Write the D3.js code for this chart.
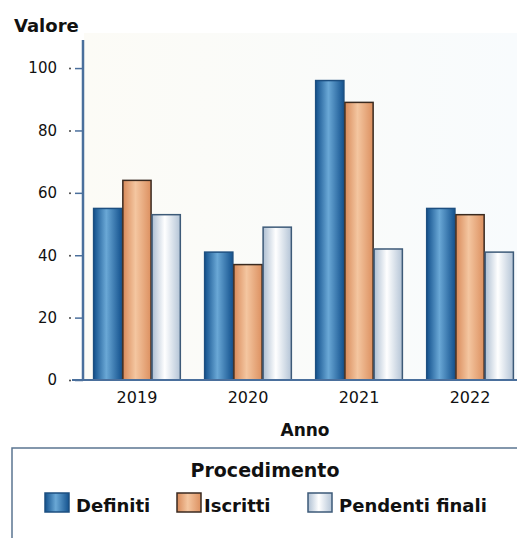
<!DOCTYPE html>
<html><head><meta charset="utf-8">
<script src="https://cdn.jsdelivr.net/npm/d3@7"></script>
<style>
html,body{margin:0;padding:0;background:#fff;}
svg{display:block;font-family:"DejaVu Sans",sans-serif;}
</style></head>
<body>
<svg id="chart" width="517" height="538"></svg>
<script>
const years = ["2019","2020","2021","2022"];
const seriesNames = ["Definiti","Iscritti","Pendenti finali"];
const definiti = [55, 41, 96, 55];
const iscritti = [64, 37, 89, 53];
const pendenti = [53, 49, 42, 41];
const yTicks = [0, 20, 40, 60, 80, 100];
const seriesValues = [definiti, iscritti, pendenti];

const svg = d3.select("#chart");
const defs = svg.append("defs");
const grads = [
  {id:"gDef", stops:[["0%","#12508c"],["45%","#6aa8d6"],["100%","#14528e"]], stroke:"#1d4f80"},
  {id:"gIsc", stops:[["0%","#d88a5a"],["45%","#f4c6a0"],["100%","#dc9060"]], stroke:"#3a2a20"},
  {id:"gPen", stops:[["0%","#aebfd2"],["45%","#ffffff"],["100%","#b4c4d6"]], stroke:"#3d5a78"}
];
grads.forEach(g=>{
  const lg = defs.append("linearGradient").attr("id",g.id).attr("x1","0%").attr("x2","100%").attr("y1","0%").attr("y2","0%");
  g.stops.forEach(s=>lg.append("stop").attr("offset",s[0]).attr("stop-color",s[1]));
});
const bg = defs.append("linearGradient").attr("id","gBg").attr("x1","0%").attr("x2","100%");
bg.append("stop").attr("offset","0%").attr("stop-color","#fcfbf6");
bg.append("stop").attr("offset","100%").attr("stop-color","#f8fbfd");

const y = d3.scaleLinear().domain([0, 109]).range([380, 40]);
const x0 = d3.scaleBand().domain(years).range([82, 525]).paddingInner(0.21).paddingOuter(0.1);
const x1 = d3.scaleBand().domain(d3.range(seriesNames.length)).range([0, x0.bandwidth()]);

svg.append("rect").attr("x",84).attr("y",33).attr("width",433).attr("height",347).attr("fill","url(#gBg)");

const groups = svg.append("g").selectAll("g").data(years).join("g")
  .attr("transform", d=>`translate(${x0(d)},0)`);
groups.selectAll("rect").data((d,i)=>seriesValues.map((s,k)=>({k, v:s[i]}))).join("rect")
  .attr("x", d=>x1(d.k)+0.5)
  .attr("y", d=>y(d.v))
  .attr("width", x1.bandwidth()-1)
  .attr("height", d=>y(0)-y(d.v))
  .attr("fill", d=>`url(#${grads[d.k].id})`)
  .attr("stroke", d=>grads[d.k].stroke)
  .attr("stroke-width", 1.5);

const yAxis = svg.append("g").attr("transform","translate(83,0)")
  .call(d3.axisLeft(y).tickValues(yTicks).tickSize(8).tickPadding(18));
yAxis.select(".domain").attr("d","M0,40V380").attr("stroke","#4a6f9c").attr("stroke-width",2.5);
yAxis.selectAll(".tick line").attr("stroke","#4a6f9c").attr("stroke-width",1.5);
yAxis.selectAll(".tick").append("circle").attr("cx",-13).attr("cy",0).attr("r",1).attr("fill","#444");
yAxis.selectAll(".tick text").attr("font-size",15).attr("fill","#111").attr("font-family","DejaVu Sans, sans-serif");

const xAxis = svg.append("g").attr("transform","translate(0,380)")
  .call(d3.axisBottom(x0).tickSize(0).tickPadding(12));
xAxis.select(".domain").attr("d","M72,0H517").attr("stroke","#4a6f9c").attr("stroke-width",2);
xAxis.selectAll(".tick text").attr("font-size",16).attr("fill","#111").attr("font-family","DejaVu Sans, sans-serif");

svg.append("text").attr("x",14).attr("y",32).attr("font-size",18).attr("font-weight","bold").attr("fill","#111").text("Valore");
svg.append("text").attr("x",305).attr("y",436).attr("text-anchor","middle").attr("font-size",17).attr("font-weight","bold").attr("fill","#111").text("Anno");

svg.append("path").attr("d","M12,538V448H517").attr("fill","none").attr("stroke","#5b7691").attr("stroke-width",1.5);
svg.append("text").attr("x",265).attr("y",477).attr("text-anchor","middle").attr("font-size",19).attr("font-weight","bold").attr("fill","#111").text("Procedimento");
const legX = [45, 177, 308];
const leg = svg.append("g").selectAll("g").data(seriesNames).join("g")
  .attr("transform",(d,i)=>`translate(${legX[i]},493)`);
leg.append("rect").attr("width",24).attr("height",19)
  .attr("fill",(d,i)=>`url(#${grads[i].id})`).attr("stroke",(d,i)=>grads[i].stroke).attr("stroke-width",1.5);
leg.append("text").attr("x",(d,i)=>i===1?27:31).attr("y",19).attr("font-size",18).attr("font-weight","bold").attr("fill","#111").text(d=>d);
</script>
</body></html>
